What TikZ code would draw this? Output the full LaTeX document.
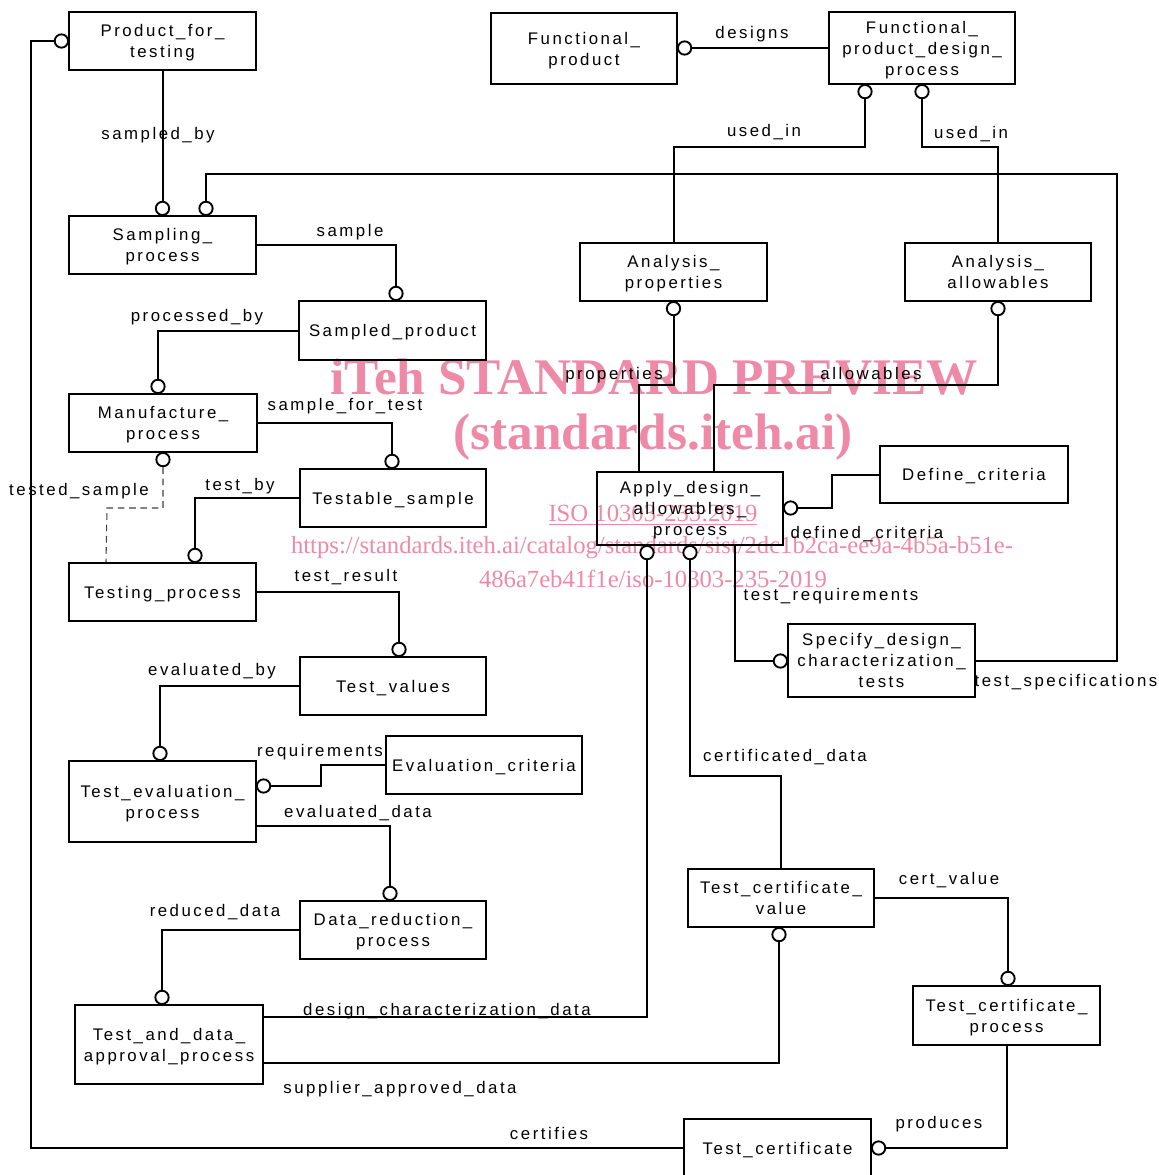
\documentclass[tikz,border=0pt]{standalone}
\usepackage{fontspec}
\setmainfont{Liberation Sans}
\newfontfamily\diafont[LetterSpace=15]{Liberation Sans}
\newfontfamily\wmfont{Liberation Serif}
\usetikzlibrary{calc}
\definecolor{wmPink}{RGB}{238,138,168}
\newcommand\entfont{\diafont\fontsize{12.6}{15.75}\selectfont}
\tikzset{
  ent/.style={draw,line width=1.5pt,minimum width=140.25pt,minimum height=43.5pt,
              inner sep=1pt,align=center,font=\entfont,text depth=-1.2pt},
  ring/.style={circle,draw,fill=white,line width=1.4pt,minimum size=10pt,inner sep=0pt},
  rel/.style={line width=1.5pt},
  relopt/.style={line width=0.8pt,dash pattern=on 5pt off 3.5pt,draw=black!75},
  attr/.style={font=\entfont,inner sep=1pt,yshift=-1.5pt},
  wmbig/.style={text=wmPink,inner sep=0pt,font=\wmfont\bfseries\fontsize{38.5}{40}\selectfont},
  wmsmall/.style={text=wmPink,inner sep=0pt,font=\wmfont\fontsize{18.5}{20}\selectfont},
}

\begin{document}
\begin{tikzpicture}[x=0.75pt,y=-0.75pt]
  \useasboundingbox (0,0) rectangle (1158,1175);
  \clip (0,0) rectangle (1158,1175);

  % Preview stamp, behind everything else.
  \node[wmbig] (wm1) at (654,377) {iTeh STANDARD PREVIEW};
  \node[wmbig] (wm2) at (653,437) {(standards.iteh.ai)};
  \node[wmsmall] (wm3) at (653,515) {\underline{ISO 10303-235:2019}};
  \node[wmsmall] (wm4) at (652,548) {https://standards.iteh.ai/catalog/standards/sist/2dc1b2ca-ee9a-4b5a-b51e-};
  \node[wmsmall] (wm5) at (653,579) {486a7eb41f1e/iso-10303-235-2019};

  % Entities, top to bottom.
  \node[ent] (pft) at (162.5,41) {Product\_for\_\\testing};
  \node[ent,minimum width=139.5pt,minimum height=53.25pt] (fp) at (584,48.5) {Functional\_\\product};
  \node[ent,minimum width=139.5pt,minimum height=54pt] (fpdp) at (922,48) {Functional\_\\product\_design\_\\process};
  \node[ent] (sp) at (162.5,245) {Sampling\_\\process};
  \node[ent,minimum height=44.25pt] (spd) at (392.5,330.5) {Sampled\_product};
  \node[ent] (ap) at (673.5,272) {Analysis\_\\properties};
  \node[ent,minimum width=139.5pt] (aa) at (998,272) {Analysis\_\\allowables};
  \node[ent,minimum width=141pt] (mp) at (163,423) {Manufacture\_\\process};
  \node[ent,minimum width=139.5pt] (tsm) at (393,498) {Testable\_sample};
  \node[ent,minimum width=139.5pt,minimum height=54.75pt] (adap) at (690,508.5) {Apply\_design\_\\allowables\_\\process};
  \node[ent,minimum width=141pt,minimum height=42.75pt] (dc) at (974,474.5) {Define\_criteria};
  \node[ent] (tp) at (162.5,592) {Testing\_process};
  \node[ent,minimum height=54.75pt] (sdct) at (881.5,660.5) {Specify\_design\_\\characterization\_\\tests};
  \node[ent,minimum width=139.5pt] (tv) at (393,686) {Test\_values};
  \node[ent,minimum width=147pt] (ec) at (484,765) {Evaluation\_criteria};
  \node[ent,minimum height=60.75pt] (tep) at (162.5,801.5) {Test\_evaluation\_\\process};
  \node[ent,minimum width=139.5pt] (drp) at (393,930) {Data\_reduction\_\\process};
  \node[ent,minimum width=139.5pt] (tcv) at (781,898) {Test\_certificate\_\\value};
  \node[ent,minimum height=44.25pt] (tcp) at (1006.5,1015.5) {Test\_certificate\_\\process};
  \node[ent,minimum width=141pt,minimum height=59.25pt] (tdap) at (169,1044.5) {Test\_and\_data\_\\approval\_process};
  \node[ent] (tc) at (777.5,1148) {Test\_certificate};

  % Rings at the referenced ends.
  \node[ring,anchor=south] (r-sb) at (162.5,216) {};
  \node[ring,anchor=south] (r-ts) at (206,216) {};
  \node[ring,anchor=south] (r-sample) at (396,301) {};
  \node[ring,anchor=south] (r-pb) at (158,394) {};
  \node[ring,anchor=south] (r-sft) at (392,469) {};
  \node[ring,anchor=north] (r-tsm) at (163,452) {};
  \node[ring,anchor=south] (r-tb) at (195,563) {};
  \node[ring,anchor=south] (r-tr) at (399,657) {};
  \node[ring,anchor=south] (r-eb) at (160,761) {};
  \node[ring,anchor=west] (r-req) at (256,786) {};
  \node[ring,anchor=south] (r-ed) at (390,901) {};
  \node[ring,anchor=south] (r-rd) at (162,1005) {};
  \node[ring,anchor=north] (r-dcd) at (647,545) {};
  \node[ring,anchor=north] (r-cd) at (690,545) {};
  \node[ring,anchor=north] (r-sad) at (779,927) {};
  \node[ring,anchor=east] (r-treq) at (788,661) {};
  \node[ring,anchor=west] (r-dc) at (783,508) {};
  \node[ring,anchor=north] (r-prop) at (673.5,301) {};
  \node[ring,anchor=north] (r-allow) at (998,301) {};
  \node[ring,anchor=north] (r-ui1) at (865,84) {};
  \node[ring,anchor=north] (r-ui2) at (922,84) {};
  \node[ring,anchor=west] (r-des) at (677,48) {};
  \node[ring,anchor=south] (r-cv) at (1008,986) {};
  \node[ring,anchor=west] (r-prod) at (871,1148) {};
  \node[ring,anchor=east] (r-cert) at (69,41) {};

  % Relationship lines.
  \draw[rel] (pft.south) -- (r-sb.north);
  \draw[rel] (sdct.east) -| (1117,174) -| (r-ts.north);
  \draw[rel] (sp.east) -| (r-sample.north);
  \draw[rel] (spd.west) -| (r-pb.north);
  \draw[rel] (mp.east) -| (r-sft.north);
  \draw[relopt] (r-tsm.south) |- (107,508) -- ($(tp.north west)+(38,0)$);
  \draw[rel] (tsm.west) -| (r-tb.north);
  \draw[rel] (tp.east) -| (r-tr.north);
  \draw[rel] (tv.west) -| (r-eb.north);
  \draw[rel] (ec.west) -| (321,786) -- (r-req.east);
  \draw[rel] ($(tep.east)+(0,24)$) -| (r-ed.north);
  \draw[rel] (drp.west) -| (r-rd.north);
  \draw[rel] ($(tdap.east)+(0,-27.5)$) -| (r-dcd.south);
  \draw[rel] ($(tdap.east)+(0,18.5)$) -| (r-sad.south);
  \draw[rel] (r-cd.south) |- ($(tcv.north)+(0,-92)$) -- (tcv.north);
  \draw[rel] ($(adap.south west)+(139,0)$) |- (r-treq.west);
  \draw[rel] (r-dc.east) -| (832,474.5) -- (dc.west);
  \draw[rel] (r-prop.south) |- ($(adap.north west)+(43,-86)$) -- ($(adap.north west)+(43,0)$);
  \draw[rel] (r-allow.south) |- ($(adap.north west)+(118,-86)$) -- ($(adap.north west)+(118,0)$);
  \draw[rel] (ap.north) -- ++(0,-95) -| (r-ui1.south);
  \draw[rel] (aa.north) -- ++(0,-95) -| (r-ui2.south);
  \draw[rel] (fpdp.west) -- (r-des.east);
  \draw[rel] (tcv.east) -| (r-cv.north);
  \draw[rel] (tcp.south) |- (r-prod.east);
  \draw[rel] (tc.west) -| (31,41) -- (r-cert.west);

  % Attribute names.
  \node[attr] (l-sb) at (158,133) {sampled\_by};
  \node[attr] (l-des) at (752,32) {designs};
  \node[attr] (l-ui1) at (764,130) {used\_in};
  \node[attr] (l-ui2) at (971,132) {used\_in};
  \node[attr] (l-sample) at (350,230) {sample};
  \node[attr] (l-pb) at (197,315) {processed\_by};
  \node[attr] (l-prop) at (614,373) {properties};
  \node[attr] (l-allow) at (871,371) {allowables};
  \node[attr] (l-sft) at (345,404) {sample\_for\_test};
  \node[attr] (l-tsm) at (79,489) {tested\_sample};
  \node[attr] (l-tb) at (240,484) {test\_by};
  \node[attr] (l-dc) at (867,532) {defined\_criteria};
  \node[attr] (l-tr) at (346,575) {test\_result};
  \node[attr] (l-treq) at (831,594) {test\_requirements};
  \node[attr] (l-ts) at (1066,680) {test\_specifications};
  \node[attr] (l-eb) at (212,669) {evaluated\_by};
  \node[attr] (l-req) at (320,750) {requirements};
  \node[attr] (l-ed) at (358,811) {evaluated\_data};
  \node[attr] (l-cd) at (785,755) {certificated\_data};
  \node[attr] (l-cv) at (949,878) {cert\_value};
  \node[attr] (l-rd) at (215,910) {reduced\_data};
  \node[attr] (l-dcd) at (447,1009) {design\_characterization\_data};
  \node[attr] (l-sad) at (400,1087) {supplier\_approved\_data};
  \node[attr] (l-prod) at (939,1122) {produces};
  \node[attr] (l-cert) at (549,1131) {certifies};
\end{tikzpicture}
\end{document}
